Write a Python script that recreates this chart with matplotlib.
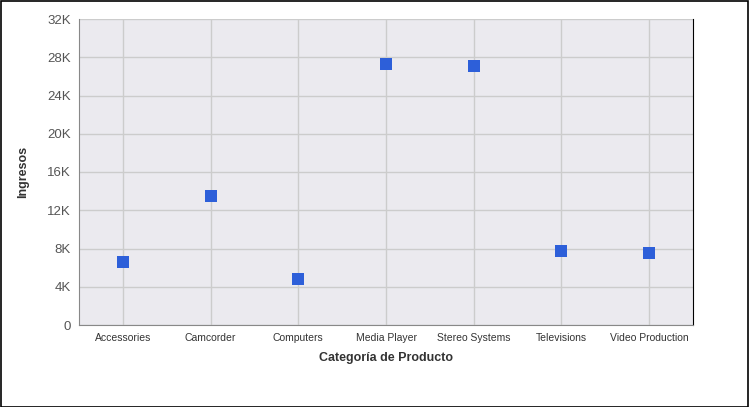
import matplotlib
matplotlib.use("Agg")
import matplotlib.pyplot as plt
from matplotlib.patches import Rectangle

categories = ["Accessories", "Camcorder", "Computers", "Media Player",
              "Stereo Systems", "Televisions", "Video Production"]
revenue = [6600, 13460, 4830, 27300, 27050, 7790, 7480]
y_ticks = [0, 4000, 8000, 12000, 16000, 20000, 24000, 28000, 32000]
y_tick_labels = ["0", "4K", "8K", "12K", "16K", "20K", "24K", "28K", "32K"]

plt.rcParams['font.family'] = ['Liberation Sans', 'DejaVu Sans']

fig = plt.figure(figsize=(7.49, 4.07), dpi=100)
ax = fig.add_axes([79/749, 1 - 325/407, (693-79)/749, (325-19)/407])
ax.set_facecolor('#ebeaef')

x = list(range(len(categories)))
ax.scatter(x, revenue, marker='s', s=72, color='#2d5fd9', zorder=3, linewidths=0)

ax.set_xlim(-0.5, len(categories) - 0.5)
ax.set_ylim(0, 32000)
ax.set_yticks(y_ticks)
ax.set_yticklabels(y_tick_labels, fontsize=9.5, color='#555555')
ax.set_xticks(x)
ax.set_xticklabels(categories, fontsize=7.5, color='#333333')
ax.tick_params(axis='both', length=0)
ax.tick_params(axis='x', pad=6)
ax.tick_params(axis='y', pad=6)
ax.grid(True, color='#cccccc', linewidth=1)
ax.set_axisbelow(True)

ax.spines['top'].set_visible(False)
ax.spines['left'].set_color('#888888')
ax.spines['bottom'].set_color('#888888')
ax.spines['right'].set_color('#000000')

ax.set_xlabel("Categoría de Producto", fontsize=9, fontweight='bold', color='#333333', labelpad=6)
ax.set_ylabel("Ingresos", fontsize=9, fontweight='bold', color='#333333', labelpad=13)

fig.patches.append(Rectangle((0.5/749, 0.5/407), 747.5/749, 405.5/407, transform=fig.transFigure,
                             fill=False, edgecolor='black', linewidth=1.2))

fig.savefig("out.png", dpi=100)
